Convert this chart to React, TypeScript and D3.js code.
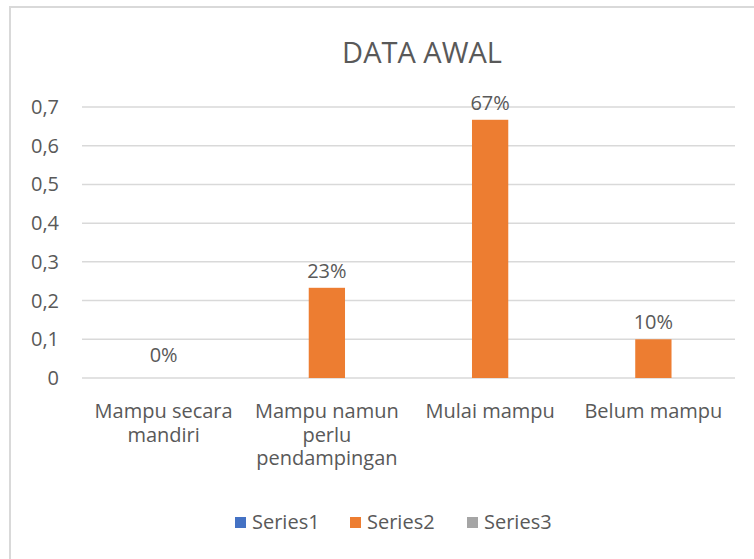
import { useEffect, useRef } from 'react';
import * as d3 from 'd3';

const categories = [
  ['Mampu secara', 'mandiri'],
  ['Mampu namun', 'perlu', 'pendampingan'],
  ['Mulai mampu'],
  ['Belum mampu'],
];
const seriesNames = ['Series1', 'Series2', 'Series3'];
const seriesColors = ['#4472c4', '#ed7d31', '#a5a5a5'];
// only Series2 carries values in the source chart
const series2Values = [0, 0.233, 0.667, 0.1];
const series2Labels = ['0%', '23%', '67%', '10%'];
const yTicks = [0, 0.1, 0.2, 0.3, 0.4, 0.5, 0.6, 0.7];

export default function App() {
  const svgRef = useRef<SVGSVGElement>(null);

  useEffect(() => {
    if (!svgRef.current) return;
    const svg = d3.select(svgRef.current);
    svg.selectAll('*').remove();

    const width = 754;
    const height = 559;
    const font = '"Open Sans", Lato, sans-serif';
    const textColor = '#595959';

    // chart frame
    svg.append('rect')
      .attr('x', 10)
      .attr('y', 7)
      .attr('width', width + 20)
      .attr('height', height + 20)
      .attr('fill', '#fff')
      .attr('stroke', '#d9d9d9')
      .attr('stroke-width', 2);

    // Title
    svg.append('text')
      .attr('x', 422)
      .attr('y', 63)
      .attr('text-anchor', 'middle')
      .attr('fill', textColor)
      .attr('font-family', font)
      .attr('font-size', '29px')
      .text('DATA AWAL');

    const left = 82;
    const right = 735;
    const top = 107;
    const bottom = 378;

    const y = d3.scaleLinear().domain([0, 0.7]).range([bottom, top]);
    const x0 = d3.scaleBand<number>()
      .domain(categories.map((_, i) => i))
      .range([left, right])
      .paddingInner(0)
      .paddingOuter(0);
    const x1 = d3.scaleBand<string>()
      .domain(seriesNames)
      .range([0, x0.bandwidth()])
      .paddingInner(0)
      .paddingOuter(0.75);

    // gridlines
    svg.append('g')
      .selectAll('line')
      .data(yTicks)
      .join('line')
      .attr('x1', left)
      .attr('x2', right)
      .attr('y1', d => y(d))
      .attr('y2', d => y(d))
      .attr('stroke', '#d9d9d9')
      .attr('stroke-width', 1.5);

    // y tick labels
    svg.append('g')
      .selectAll('text')
      .data(yTicks)
      .join('text')
      .attr('x', 59)
      .attr('y', d => y(d))
      .attr('dy', '0.35em')
      .attr('text-anchor', 'end')
      .attr('fill', textColor)
      .attr('font-family', font)
      .attr('font-size', '20px')
      .text(d => (d === 0 ? '0' : d3.format('.1f')(d).replace('.', ',')));

    // bars (Series2)
    const barX = (i: number) => (x0(i) ?? 0) + (x1('Series2') ?? 0);
    svg.append('g')
      .selectAll('rect')
      .data(series2Values)
      .join('rect')
      .attr('x', (_, i) => barX(i))
      .attr('y', d => y(d))
      .attr('width', x1.bandwidth())
      .attr('height', d => bottom - y(d))
      .attr('fill', seriesColors[1]);

    // data labels
    svg.append('g')
      .selectAll('text')
      .data(series2Values)
      .join('text')
      .attr('x', (_, i) => barX(i) + x1.bandwidth() / 2)
      .attr('y', d => y(d) - (d === 0 ? 16 : 10))
      .attr('text-anchor', 'middle')
      .attr('fill', textColor)
      .attr('font-family', font)
      .attr('font-size', '20px')
      .text((_, i) => series2Labels[i]);

    // category labels
    const catG = svg.append('g');
    categories.forEach((lines, i) => {
      const cx = (x0(i) ?? 0) + x0.bandwidth() / 2;
      const t = catG.append('text')
        .attr('text-anchor', 'middle')
        .attr('fill', textColor)
        .attr('font-family', font)
        .attr('font-size', '20px');
      lines.forEach((line, j) => {
        t.append('tspan')
          .attr('x', cx)
          .attr('y', 418 + j * 23.5)
          .text(line);
      });
    });

    // legend
    const legendX = [235, 350, 467];
    const legend = svg.append('g');
    seriesNames.forEach((name, i) => {
      legend.append('rect')
        .attr('x', legendX[i])
        .attr('y', 517)
        .attr('width', 11)
        .attr('height', 11)
        .attr('fill', seriesColors[i]);
      legend.append('text')
        .attr('x', legendX[i] + 17)
        .attr('y', 522)
        .attr('dy', '0.35em')
        .attr('fill', textColor)
        .attr('font-family', font)
        .attr('font-size', '20px')
        .text(name);
    });
  }, []);

  return (
    <svg
      ref={svgRef}
      width={754}
      height={559}
      style={{ position: 'absolute', left: 0, top: 0, display: 'block' }}
    />
  );
}
